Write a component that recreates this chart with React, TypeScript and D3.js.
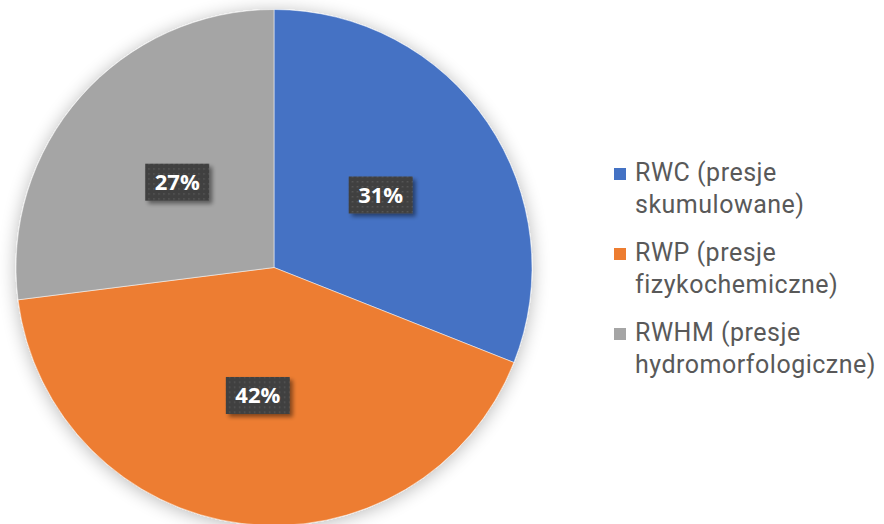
import React from "react";
import * as d3 from "d3";

const categories = ["RWC (presje skumulowane)", "RWP (presje fizykochemiczne)", "RWHM (presje hydromorfologiczne)"];
const legendLines = [["RWC (presje", "skumulowane)"], ["RWP (presje", "fizykochemiczne)"], ["RWHM (presje", "hydromorfologiczne)"]];
const values = [31, 42, 27];
const colors = ["#4472C4", "#ED7D31", "#A5A5A5"];

export default function App() {
  const W = 884, H = 524;
  const cx = 274, cy = 267.5, R = 258;
  const pie = d3.pie<number>().sort(null).value(d => d)(values);
  const arc = d3.arc<d3.PieArcDatum<number>>().innerRadius(0).outerRadius(R);
  const total = d3.sum(values);
  const legendY = d3.scaleLinear().domain([0, 1]).range([180.5, 260.5]);
  return (
    <svg width={W} height={H} style={{ position: "absolute", left: 0, top: 0, background: "#fff" }}>
      <defs>
        <filter id="pieShadow" x="-20%" y="-20%" width="140%" height="140%">
          <feGaussianBlur in="SourceAlpha" stdDeviation="9" />
          <feOffset dx="0" dy="2" result="b" />
          <feComponentTransfer><feFuncA type="linear" slope="0.28" /></feComponentTransfer>
          <feMerge><feMergeNode /><feMergeNode in="SourceGraphic" /></feMerge>
        </filter>
        <filter id="boxShadow" x="-30%" y="-30%" width="160%" height="160%">
          <feGaussianBlur in="SourceAlpha" stdDeviation="2" />
          <feOffset dx="3" dy="3" />
          <feComponentTransfer><feFuncA type="linear" slope="0.45" /></feComponentTransfer>
          <feMerge><feMergeNode /><feMergeNode in="SourceGraphic" /></feMerge>
        </filter>
        <pattern id="dots" width="5" height="5" patternUnits="userSpaceOnUse">
          <rect width="5" height="5" fill="#404040" />
          <rect x="1" y="1" width="1.5" height="1.5" fill="#585858" />
        </pattern>
      </defs>
      <g transform={`translate(${cx},${cy})`}>
        <g filter="url(#pieShadow)">
          {pie.map((p, i) => (
            <path key={i} d={arc(p) || ""} fill={colors[i]} stroke="#fff" strokeWidth={0.5} />
          ))}
        </g>
        {pie.map((p, i) => {
          const [x, y] = arc.centroid(p);
          const bw = 64, bh = 37;
          return (
            <g key={"l" + i} transform={`translate(${x},${y})`}>
              <rect x={-bw / 2} y={-bh / 2} width={bw} height={bh} fill="url(#dots)" filter="url(#boxShadow)" />
              <text x={0} y={8} textAnchor="middle" fill="#fff" fontFamily="'Open Sans', sans-serif" fontWeight="bold" fontSize={22}>
                {Math.round((p.data / total) * 100) + "%"}
              </text>
            </g>
          );
        })}
      </g>
      {categories.map((c, i) => {
        const by = legendY(i);
        return (
          <g key={c}>
            <rect x={614} y={by - 12.5} width={12} height={12} fill={colors[i]} />
            {legendLines[i].map((t, j) => (
              <text key={j} x={635} y={by + j * 32.5} fontFamily="Roboto, sans-serif" fontSize={25} letterSpacing={0.5} fill="#595959">{t}</text>
            ))}
          </g>
        );
      })}
    </svg>
  );
}
